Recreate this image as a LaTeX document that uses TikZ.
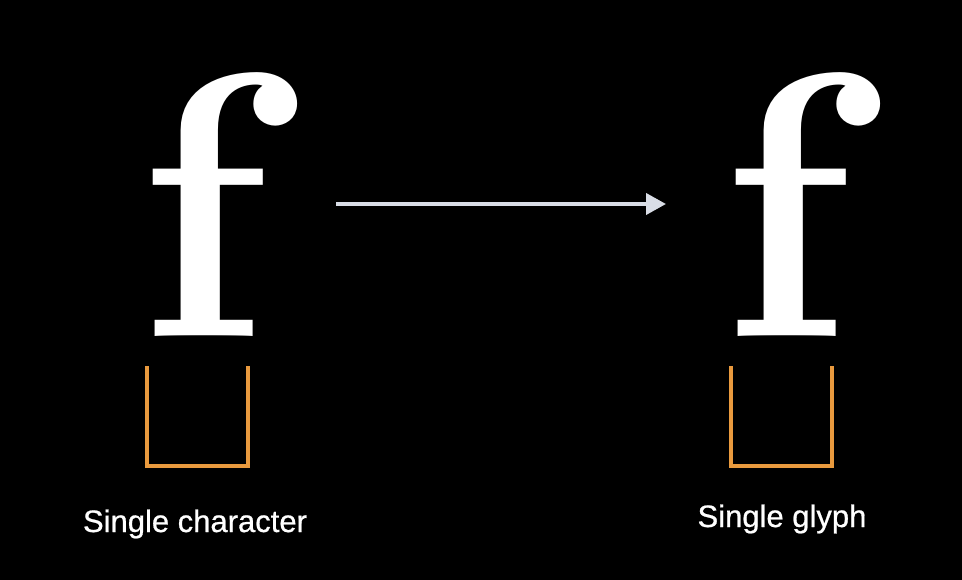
\documentclass[tikz,border=0pt]{standalone}
\usepackage{fontspec}
\newfontfamily\capfont[FakeBold=0.7]{Liberation Sans}
\usetikzlibrary{arrows.meta}
\definecolor{bracketorange}{HTML}{E99A3E}
\definecolor{arrowgray}{HTML}{D9DDE6}
\tikzset{
  bigf/.style={text=white, inner sep=0pt, anchor=base, font=\bfseries\fontsize{377}{377}\selectfont},
  bracketline/.style={draw=bracketorange, line width=4pt, line join=miter},
  caption/.style={text=white, inner sep=0pt, anchor=base, font=\capfont\fontsize{31}{36}\selectfont},
  flowarrow/.style={draw=arrowgray, line width=4pt, -{Triangle[length=20pt,width=21pt]}}
}
\begin{document}
\begin{tikzpicture}[x=1pt,y=-1pt]
\useasboundingbox (0,0) rectangle (962,580);
\fill[black] (0,0) rectangle (962,580);
\node[bigf] (fL) at (203,337) {f};
\node[bigf] (fR) at (786,337) {f};
\coordinate (aS) at (336,204);
\coordinate (aE) at (666,204);
\draw[flowarrow] (aS) -- (aE);
\draw[bracketline] (147,366) -- (147,466) -- (248,466) -- (248,366);
\draw[bracketline] (731,366) -- (731,466) -- (832,466) -- (832,366);
\node[caption] (cL) at (195,532) {Single character};
\node[caption] (cR) at (782,527) {Single glyph};
\end{tikzpicture}
\end{document}
